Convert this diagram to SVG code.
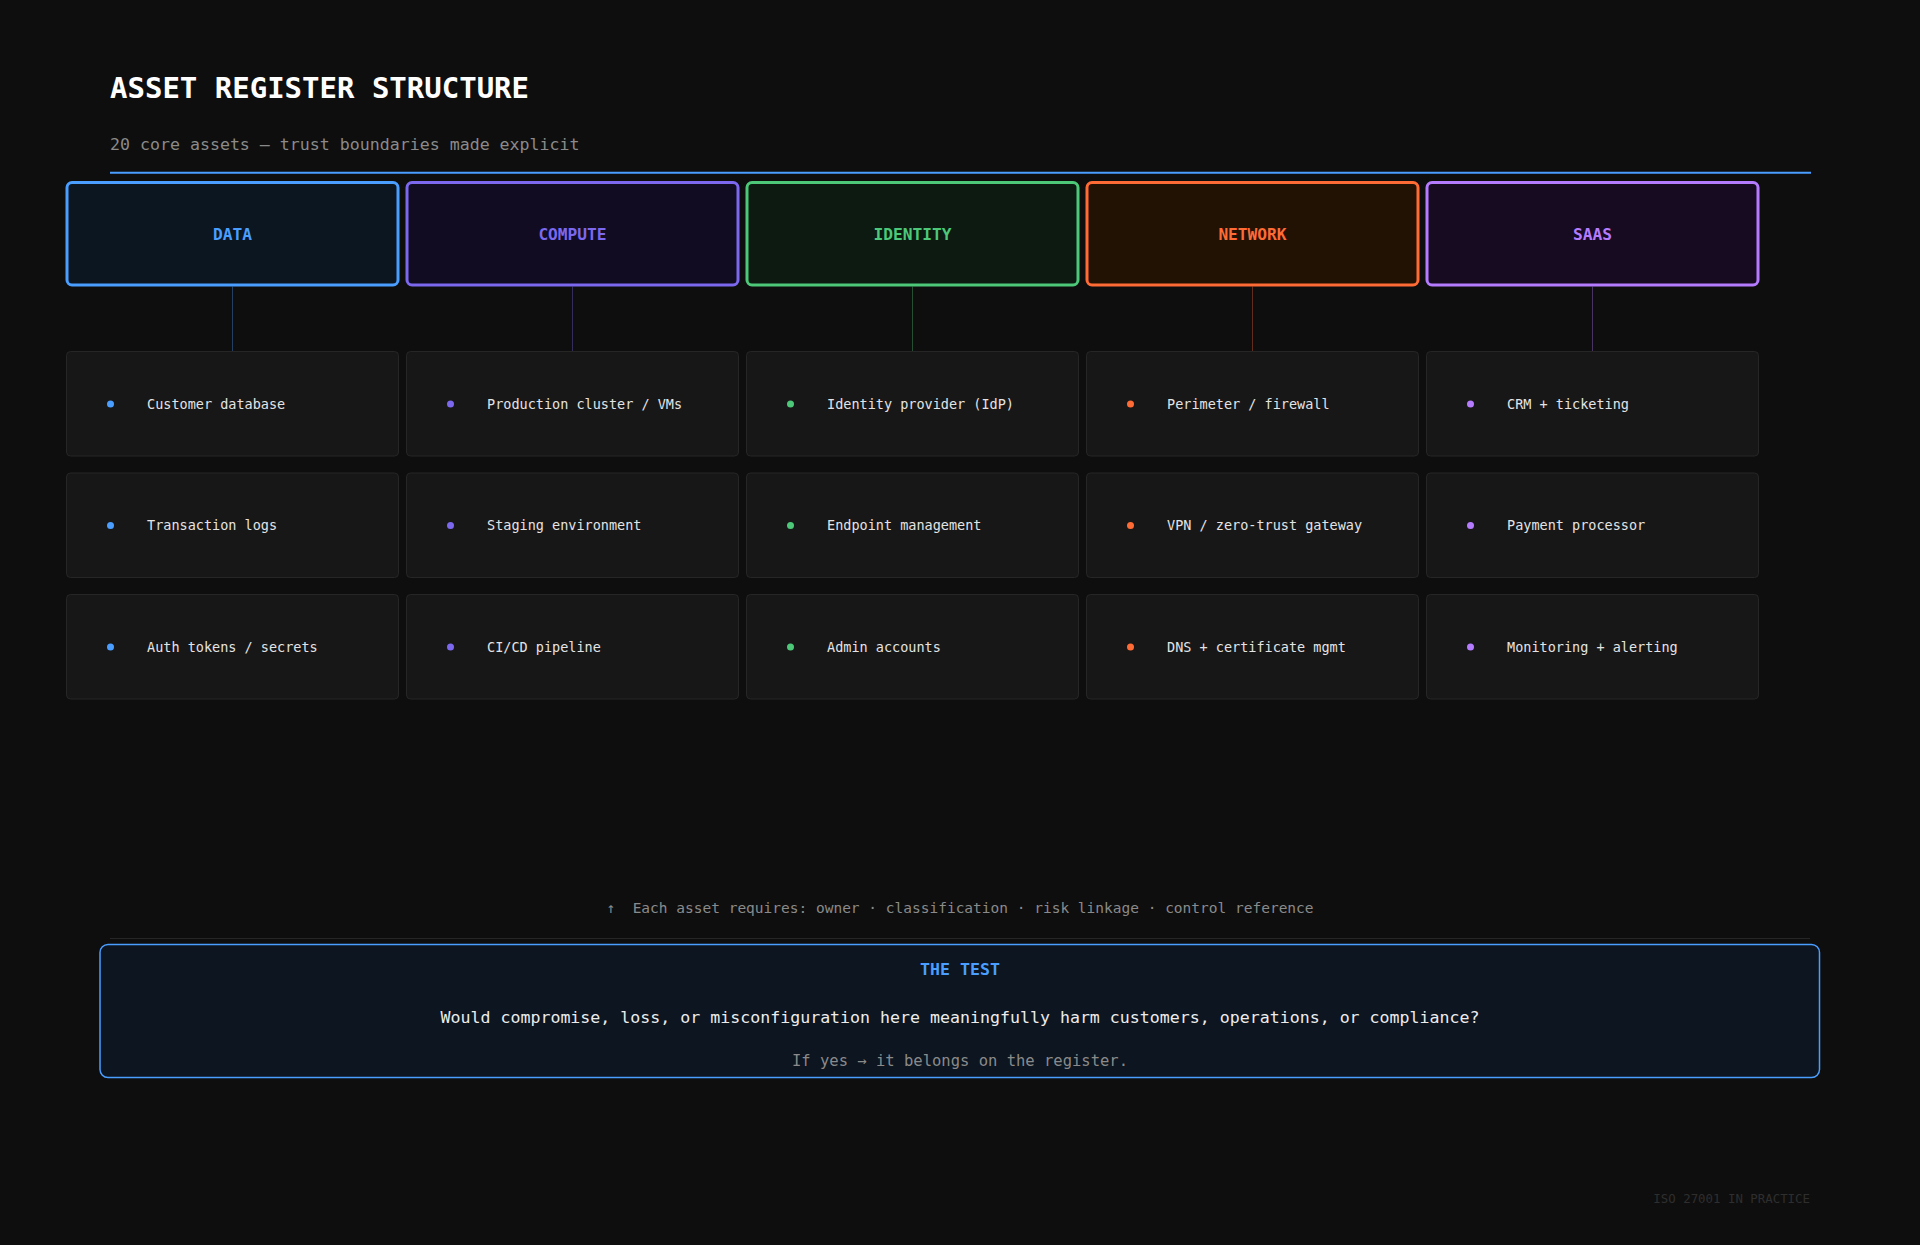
<svg xmlns="http://www.w3.org/2000/svg" width="1920" height="1245" viewBox="0 0 1920 1245">
<style>
text{font-family:"DejaVu Sans Mono","Liberation Mono",monospace}
.title{font-size:29px;font-weight:bold;fill:#ffffff}
.sub{font-size:16.6px;fill:#8a8a8a}
.cat{stroke-width:3}
.catlabel{font-size:16.2px;font-weight:bold;text-anchor:middle}
.item{fill:#171717;stroke:#262626;stroke-width:1}
.itext{font-size:13.5px;fill:#e4e4e4}
.conn{stroke-width:1;fill:none;stroke-opacity:0.35}
.note{font-size:14.5px;fill:#8a8a8a;text-anchor:middle}
</style>
<rect x="0" y="0" width="1920" height="1245" fill="#0e0e0e"/>
<g id="header">
<text class="title" x="110" y="98">ASSET REGISTER STRUCTURE</text>
<text class="sub" x="110" y="150">20 core assets — trust boundaries made explicit</text>
<line x1="110" y1="172.7" x2="1811" y2="172.7" stroke="#4a9eff" stroke-width="2"/>
</g>
<g id="connectors">
<line class="conn" x1="232.5" y1="286.5" x2="232.5" y2="351.5" stroke="#4a9eff"/>
<line class="conn" x1="572.5" y1="286.5" x2="572.5" y2="351.5" stroke="#7b68ee"/>
<line class="conn" x1="912.5" y1="286.5" x2="912.5" y2="351.5" stroke="#4cc878"/>
<line class="conn" x1="1252.5" y1="286.5" x2="1252.5" y2="351.5" stroke="#ff6b35"/>
<line class="conn" x1="1592.5" y1="286.5" x2="1592.5" y2="351.5" stroke="#b57bff"/>
</g>
<g id="cat-data">
<rect class="cat" x="67" y="182.5" width="331" height="102.5" rx="5" fill="#0c1621" stroke="#4a9eff"/>
<text class="catlabel" x="232.5" y="239.5" fill="#4a9eff">DATA</text>
</g>
<g id="cat-compute">
<rect class="cat" x="407" y="182.5" width="331" height="102.5" rx="5" fill="#120c22" stroke="#7b68ee"/>
<text class="catlabel" x="572.5" y="239.5" fill="#7b68ee">COMPUTE</text>
</g>
<g id="cat-identity">
<rect class="cat" x="747" y="182.5" width="331" height="102.5" rx="5" fill="#0c1a12" stroke="#4cc878"/>
<text class="catlabel" x="912.5" y="239.5" fill="#4cc878">IDENTITY</text>
</g>
<g id="cat-network">
<rect class="cat" x="1087" y="182.5" width="331" height="102.5" rx="5" fill="#221204" stroke="#ff6b35"/>
<text class="catlabel" x="1252.5" y="239.5" fill="#ff6b35">NETWORK</text>
</g>
<g id="cat-saas">
<rect class="cat" x="1427" y="182.5" width="331" height="102.5" rx="5" fill="#170b22" stroke="#b57bff"/>
<text class="catlabel" x="1592.5" y="239.5" fill="#b57bff">SAAS</text>
</g>

<g id="item-data-1"><rect class="item" x="66.5" y="351.5" width="332" height="104.5" rx="4"/><circle cx="110.5" cy="404" r="3.5" fill="#4a9eff"/><text class="itext" x="147" y="408.5">Customer database</text></g>
<g id="item-data-2"><rect class="item" x="66.5" y="473" width="332" height="104.5" rx="4"/><circle cx="110.5" cy="525.5" r="3.5" fill="#4a9eff"/><text class="itext" x="147" y="530">Transaction logs</text></g>
<g id="item-data-3"><rect class="item" x="66.5" y="594.5" width="332" height="104.5" rx="4"/><circle cx="110.5" cy="647" r="3.5" fill="#4a9eff"/><text class="itext" x="147" y="651.5">Auth tokens / secrets</text></g>

<g id="item-compute-1"><rect class="item" x="406.5" y="351.5" width="332" height="104.5" rx="4"/><circle cx="450.5" cy="404" r="3.5" fill="#7b68ee"/><text class="itext" x="487" y="408.5">Production cluster / VMs</text></g>
<g id="item-compute-2"><rect class="item" x="406.5" y="473" width="332" height="104.5" rx="4"/><circle cx="450.5" cy="525.5" r="3.5" fill="#7b68ee"/><text class="itext" x="487" y="530">Staging environment</text></g>
<g id="item-compute-3"><rect class="item" x="406.5" y="594.5" width="332" height="104.5" rx="4"/><circle cx="450.5" cy="647" r="3.5" fill="#7b68ee"/><text class="itext" x="487" y="651.5">CI/CD pipeline</text></g>

<g id="item-identity-1"><rect class="item" x="746.5" y="351.5" width="332" height="104.5" rx="4"/><circle cx="790.5" cy="404" r="3.5" fill="#4cc878"/><text class="itext" x="827" y="408.5">Identity provider (IdP)</text></g>
<g id="item-identity-2"><rect class="item" x="746.5" y="473" width="332" height="104.5" rx="4"/><circle cx="790.5" cy="525.5" r="3.5" fill="#4cc878"/><text class="itext" x="827" y="530">Endpoint management</text></g>
<g id="item-identity-3"><rect class="item" x="746.5" y="594.5" width="332" height="104.5" rx="4"/><circle cx="790.5" cy="647" r="3.5" fill="#4cc878"/><text class="itext" x="827" y="651.5">Admin accounts</text></g>

<g id="item-network-1"><rect class="item" x="1086.5" y="351.5" width="332" height="104.5" rx="4"/><circle cx="1130.5" cy="404" r="3.5" fill="#ff6b35"/><text class="itext" x="1167" y="408.5">Perimeter / firewall</text></g>
<g id="item-network-2"><rect class="item" x="1086.5" y="473" width="332" height="104.5" rx="4"/><circle cx="1130.5" cy="525.5" r="3.5" fill="#ff6b35"/><text class="itext" x="1167" y="530">VPN / zero-trust gateway</text></g>
<g id="item-network-3"><rect class="item" x="1086.5" y="594.5" width="332" height="104.5" rx="4"/><circle cx="1130.5" cy="647" r="3.5" fill="#ff6b35"/><text class="itext" x="1167" y="651.5">DNS + certificate mgmt</text></g>

<g id="item-saas-1"><rect class="item" x="1426.5" y="351.5" width="332" height="104.5" rx="4"/><circle cx="1470.5" cy="404" r="3.5" fill="#b57bff"/><text class="itext" x="1507" y="408.5">CRM + ticketing</text></g>
<g id="item-saas-2"><rect class="item" x="1426.5" y="473" width="332" height="104.5" rx="4"/><circle cx="1470.5" cy="525.5" r="3.5" fill="#b57bff"/><text class="itext" x="1507" y="530">Payment processor</text></g>
<g id="item-saas-3"><rect class="item" x="1426.5" y="594.5" width="332" height="104.5" rx="4"/><circle cx="1470.5" cy="647" r="3.5" fill="#b57bff"/><text class="itext" x="1507" y="651.5">Monitoring + alerting</text></g>

<g id="note">
<text class="note" x="960" y="913">↑&#160; Each asset requires: owner · classification · risk linkage · control reference</text>
<line x1="110" y1="938.5" x2="1810" y2="938.5" stroke="#262626" stroke-width="1"/>
</g>
<g id="test-box">
<rect x="100" y="944.5" width="1719.5" height="133" rx="8" fill="#0c1520" stroke="#4a9eff" stroke-width="1.5"/>
<text x="960" y="975" font-size="16.6" font-weight="bold" fill="#4a9eff" text-anchor="middle">THE TEST</text>
<text x="960" y="1023" font-size="16.6" fill="#ececec" text-anchor="middle">Would compromise, loss, or misconfiguration here meaningfully harm customers, operations, or compliance?</text>
<text x="960" y="1066" font-size="15.5" fill="#8a8a8a" text-anchor="middle">If yes → it belongs on the register.</text>
</g>
<g id="footer">
<text x="1810" y="1203" font-size="12.4" fill="#2e2e2e" text-anchor="end">ISO 27001 IN PRACTICE</text>
</g>
</svg>
